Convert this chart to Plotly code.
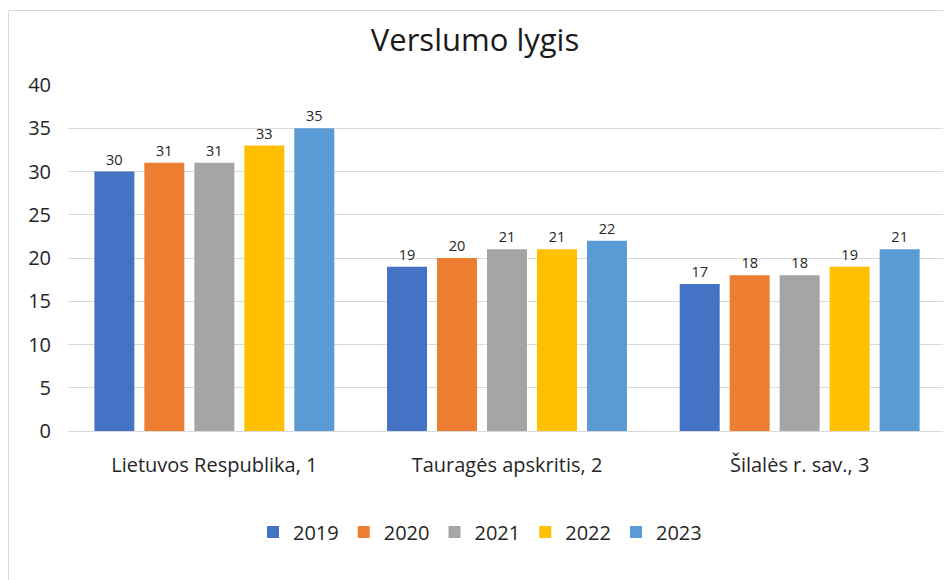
import plotly.graph_objects as go

categories = ["Lietuvos Respublika, 1", "Tauragės apskritis, 2", "Šilalės r. sav., 3"]
years = ["2019", "2020", "2021", "2022", "2023"]
values_2019 = [30, 19, 17]
values_2020 = [31, 20, 18]
values_2021 = [31, 21, 18]
values_2022 = [33, 21, 19]
values_2023 = [35, 22, 21]
series = [values_2019, values_2020, values_2021, values_2022, values_2023]
colors = ["#4472C4", "#ED7D31", "#A5A5A5", "#FFC000", "#5B9BD5"]

FONT = "Open Sans, Noto Sans, sans-serif"

fig = go.Figure()
for year, vals, col in zip(years, series, colors):
    fig.add_trace(go.Bar(
        name=year, x=categories, y=vals,
        marker=dict(color=col, line=dict(width=10, color="rgba(0,0,0,0)")),
        text=[str(v) for v in vals], textposition="outside",
        textfont=dict(size=14.5, color="#262626", family=FONT),
        cliponaxis=False,
    ))

# page body adds an 8px offset; positions below are in figure coordinates
W, H = 951, 580
L, T = 60, 77
plot_right, plot_bottom = 938, 423
R, B = W - plot_right, H - plot_bottom
pw, ph = plot_right - L, plot_bottom - T

fig.update_layout(
    width=W, height=H,
    margin=dict(l=L, r=R, t=T, b=B, autoexpand=False),
    paper_bgcolor="white", plot_bgcolor="white",
    barmode="group", bargap=0.146, bargroupgap=0.2,
    font=dict(family=FONT, color="#404040"),
    title=dict(text="Verslumo lygis", x=(475 - 8) / W, xanchor="center", y=1 - 32 / H, yanchor="middle",
               font=dict(size=31, color="#1a1a1a", family=FONT)),
    showlegend=True,
    legend=dict(orientation="h", x=(472 - L) / pw, xanchor="center",
                y=(plot_bottom - 524) / ph, yanchor="middle",
                font=dict(size=20, color="#262626"), traceorder="normal", itemwidth=30,
                bgcolor="rgba(0,0,0,0)"),
    xaxis=dict(showgrid=False, showline=True, linecolor="#d9d9d9", linewidth=1,
               tickfont=dict(size=20, color="#262626"), ticks="", ticklabelstandoff=16),
    yaxis=dict(range=[0, 40], dtick=5, showgrid=True, gridcolor="#d9d9d9", gridwidth=1,
               zeroline=False, showline=False, ticks="",
               tickfont=dict(size=20, color="#262626"), ticklabelstandoff=16),
    shapes=[dict(type="rect", xref="paper", yref="paper",
                 x0=(0.5 - L) / pw, x1=1.2, y0=-1.0, y1=(plot_bottom - 2.5) / ph,
                 line=dict(color="#d9d9d9", width=1), fillcolor="rgba(0,0,0,0)", layer="below")],
)

fig.write_html("out.html")
